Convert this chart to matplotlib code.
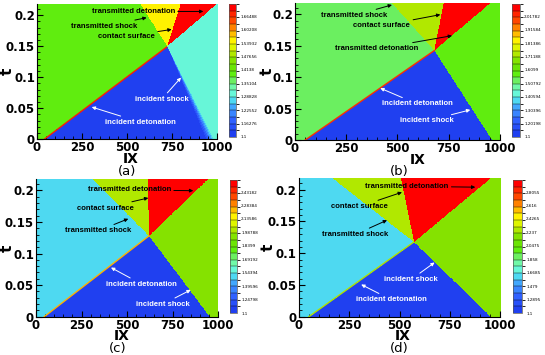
import numpy as np
import matplotlib
matplotlib.use('Agg')
import matplotlib.pyplot as plt
from matplotlib.colors import LinearSegmentedColormap, BoundaryNorm
from matplotlib.ticker import MultipleLocator, FuncFormatter

# wave geometry in the (IX, t) plane, one entry per panel
panel_tags = ['(a)', '(b)', '(c)', '(d)']
t_top = 0.218
det_foot = [40, 50, 45, 50]          # incident detonation at t=0
shock_foot_lo = [928, 961, 956, 950]  # incident shock at t=0 (front edge)
shock_foot_hi = [980, 961, 956, 950]  # incident shock at t=0 (back edge)
cross_x = [720, 680, 621, 570]        # where the two waves meet
cross_t = [0.1486, 0.1425, 0.128, 0.1174]
tshock_top = [568, 473, 311, 165]     # transmitted shock at t_top
contact_top = [795, 725, 615, 504]    # contact surface at t_top
tdet_top = [1000, 953, 946, 950]      # transmitted detonation at t_top

# contour value in each region
val_fresh = [1.1, 1.1, 1.1, 1.1]
val_left = [1.395, 1.504, 1.525, 1.588]
val_right = [1.302, 1.585, 1.942, 2.179]
val_shocked = [1.546, 1.731, 2.016, 2.272]
val_burnt = [1.70, 2.08, 2.52, 2.92]
det_line_color = ['#ff2000', '#ff3000', '#ffb000', '#b0e000']

cbar_max = [1.722, 2.11, 2.565, 2.976]
cbar_ticks = [
    [1.1, 1.16276, 1.22552, 1.28828, 1.35104, 1.4138, 1.47656, 1.53932, 1.60208, 1.66488],
    [1.1, 1.20198, 1.30396, 1.40594, 1.50792, 1.6099, 1.71188, 1.81386, 1.91584, 2.01782],
    [1.1, 1.24798, 1.39596, 1.54394, 1.69192, 1.8399, 1.98788, 2.13586, 2.28384, 2.43182],
    [1.1, 1.2895, 1.479, 1.6685, 1.858, 2.0475, 2.237, 2.4265, 2.616, 2.8055],
]

# annotations: (text, tip IX, tip t, text IX, text t, colour)
notes = [
    [('transmitted detonation', 924, 0.206, 535, 0.206, 'k'),
     ('transmitted shock', 609, 0.196, 374, 0.182, 'k'),
     ('contact surface', 748, 0.177, 498, 0.166, 'k'),
     ('incident shock', 800, 0.0995, 693, 0.0647, 'w'),
     ('incident detonation', 304, 0.052, 576, 0.0273, 'w')],
    [('transmitted shock', 473, 0.215, 286, 0.198, 'k'),
     ('contact surface', 709, 0.1995, 424, 0.182, 'k'),
     ('transmitted detonation', 766, 0.166, 400, 0.145, 'k'),
     ('incident detonation', 416, 0.0825, 595, 0.0575, 'w'),
     ('incident shock', 855, 0.048, 644, 0.0303, 'w')],
    [('transmitted detonation', 864, 0.1995, 513, 0.2006, 'k'),
     ('contact surface', 617, 0.188, 379, 0.172, 'k'),
     ('transmitted shock', 507, 0.155, 342, 0.136, 'k'),
     ('incident detonation', 412, 0.0778, 581, 0.0514, 'w'),
     ('incident shock', 850, 0.0424, 696, 0.0197, 'w')],
    [('transmitted detonation', 876, 0.204, 537, 0.2054, 'k'),
     ('contact surface', 512, 0.196, 301, 0.1734, 'k'),
     ('transmitted shock', 438, 0.152, 281, 0.1296, 'k'),
     ('incident shock', 674, 0.0854, 558, 0.0587, 'w'),
     ('incident detonation', 310, 0.0507, 459, 0.0267, 'w')],
]

# layout (figure fractions)
ax_rects = [[0.0679, 0.6076, 0.3303, 0.3811], [0.5413, 0.6056, 0.3761, 0.3859],
            [0.0661, 0.1079, 0.3339, 0.3879], [0.5481, 0.1079, 0.3699, 0.3899]]
cb_rects = [[0.4202, 0.6141, 0.0128, 0.3746], [0.9394, 0.6141, 0.0147, 0.3746],
            [0.4220, 0.1183, 0.0128, 0.3746], [0.9413, 0.1183, 0.0165, 0.3746]]
ylabel_x = [-0.122, -0.098, -0.118, -0.113]
xlabel_pos = [(0.52, -0.094), (0.60, -0.094), (0.47, -0.092), (0.517, -0.092)]
tag_pos = [(0.5, -0.19), (0.51, -0.185), (0.45, -0.185), (0.50, -0.183)]

cmap = LinearSegmentedColormap.from_list('tec', [
    (0.00, '#2040f0'), (0.10, '#3060ff'), (0.20, '#40a0ff'), (0.27, '#50e0f0'),
    (0.33, '#70ffd0'), (0.40, '#70f080'), (0.47, '#60ee10'), (0.55, '#70e000'),
    (0.63, '#b0e800'), (0.72, '#ffff00'), (0.80, '#ffb000'), (0.88, '#ff5000'),
    (1.00, '#ff0000')])


def x_on(x0, t0, x1, t1, t):
    return x0 + (x1 - x0) * (t - t0) / (t1 - t0)


fig = plt.figure(figsize=(5.45, 3.55), dpi=100)
X, T = np.meshgrid(np.linspace(0, 1000, 800), np.linspace(0, t_top, 400))

for i in range(4):
    cx, ct = cross_x[i], cross_t[i]
    # below the crossing point
    xd = x_on(det_foot[i], 0, cx, ct, T)
    xlo = x_on(shock_foot_lo[i], 0, cx, ct, T)
    xhi = x_on(shock_foot_hi[i], 0, cx, ct, T)
    width = np.maximum(xhi - xlo, 1e-9)
    ramp = np.clip((X - xlo) / width, 0, 1)
    low = np.where(X < xd, val_left[i],
                   val_fresh[i] + (val_right[i] - val_fresh[i]) * ramp)
    # above the crossing point
    xs = x_on(cx, ct, tshock_top[i], t_top, T)
    xc = x_on(cx, ct, contact_top[i], t_top, T)
    xt = x_on(cx, ct, tdet_top[i], t_top, T)
    high = np.where(X < xs, val_left[i],
                    np.where(X < xc, val_shocked[i],
                             np.where(X < xt, val_burnt[i], val_right[i])))
    field = np.where(T < ct, low, high)

    levels = np.linspace(1.1, cbar_max[i], 21)
    norm = BoundaryNorm(levels, cmap.N)

    ax = fig.add_axes(ax_rects[i])
    im = ax.imshow(field, origin='lower', extent=[0, 1000, 0, t_top], aspect='auto',
                   cmap=cmap, norm=norm, interpolation='nearest')
    ax.plot([det_foot[i], cx], [0, ct], color=det_line_color[i], lw=1.0)
    ax.set_xlim(0, 1000)
    ax.set_ylim(0, t_top)

    ax.xaxis.set_major_locator(MultipleLocator(250))
    ax.xaxis.set_minor_locator(MultipleLocator(50))
    ax.yaxis.set_major_locator(MultipleLocator(0.05))
    ax.yaxis.set_minor_locator(MultipleLocator(0.01))
    ax.yaxis.set_major_formatter(FuncFormatter(lambda v, p: f'{v:g}'))
    ax.tick_params(which='both', direction='in', labelsize=8.5, pad=1.5)
    ax.tick_params(which='major', length=4, width=0.8)
    ax.tick_params(which='minor', length=2, width=0.6)
    for lab in ax.get_xticklabels() + ax.get_yticklabels():
        lab.set_fontweight('bold')
    ax.spines['top'].set_visible(False)
    ax.spines['right'].set_visible(False)

    ax.set_xlabel('IX', fontsize=10, fontweight='bold')
    ax.xaxis.set_label_coords(*xlabel_pos[i])
    ax.set_ylabel('t', fontsize=11, fontweight='bold')
    ax.yaxis.set_label_coords(ylabel_x[i], 0.5)
    ax.text(tag_pos[i][0], tag_pos[i][1], panel_tags[i], transform=ax.transAxes,
            ha='center', va='top', fontsize=9.5)

    for text, tx, tt, lx, lt, col in notes[i]:
        ax.annotate(text, xy=(tx, tt), xytext=(lx, lt), color=col, fontsize=5.5,
                    fontweight='bold', fontfamily='Liberation Sans',
                    ha='center', va='center',
                    arrowprops=dict(arrowstyle='-|>', color=col, lw=0.7,
                                    mutation_scale=5, shrinkA=0, shrinkB=0))

    cax = fig.add_axes(cb_rects[i])
    cb = fig.colorbar(im, cax=cax, ticks=cbar_ticks[i])
    cb.ax.set_yticklabels([f'{v:g}' for v in cbar_ticks[i]])
    cb.ax.tick_params(length=0, labelsize=3, pad=3)
    cb.outline.set_linewidth(0.5)
    cb.outline.set_edgecolor('#555555')
    cb.ax.hlines(levels[1:-1], 0, 1, colors='k', lw=0.3)

fig.savefig('out.png', dpi=100)
